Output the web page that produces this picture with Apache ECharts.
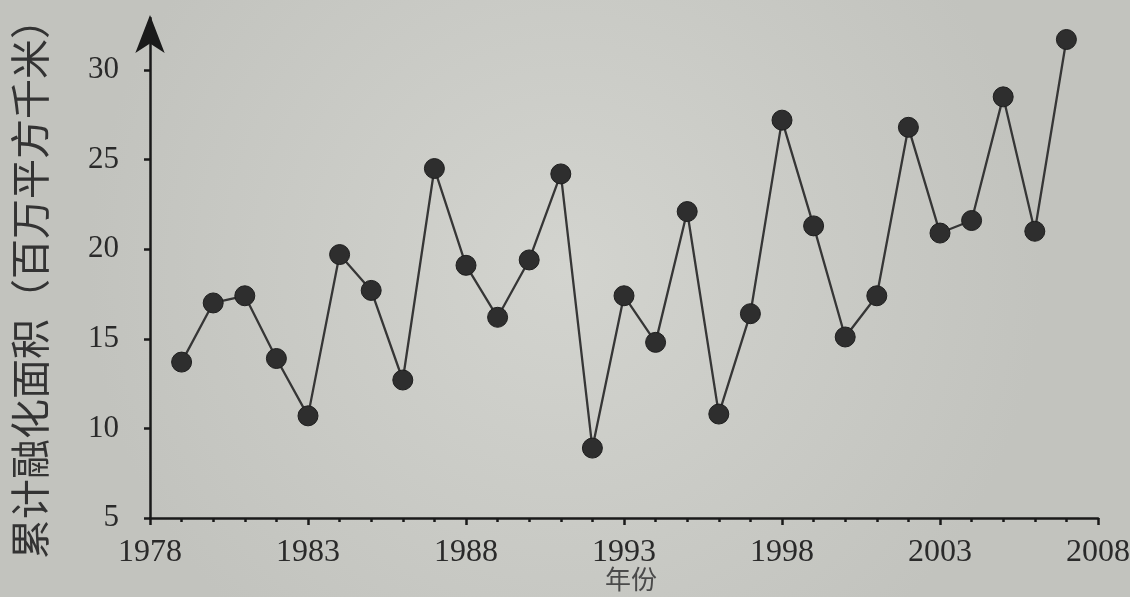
<!DOCTYPE html>
<html>
<head>
<meta charset="utf-8">
<script src="https://cdn.jsdelivr.net/npm/echarts@6/dist/echarts.min.js"></script>
<style>
html,body{margin:0;padding:0;background:#cfd0cb;}
#chart{width:1130px;height:597px;}
</style>
</head>
<body>
<div id="chart"></div>
<script>
const years = [1979,1980,1981,1982,1983,1984,1985,1986,1987,1988,1989,1990,1991,1992,1993,1994,1995,1996,1997,1998,1999,2000,2001,2002,2003,2004,2005,2006,2007];
const meltArea = [13.7,17.0,17.4,13.9,10.7,19.7,17.7,12.7,24.5,19.1,16.2,19.4,24.2,8.9,17.4,14.8,22.1,10.8,16.4,27.2,21.3,15.1,17.4,26.8,20.9,21.6,28.5,21.0,31.7];
const yTicks = [5,10,15,20,25,30];
const xTicks = [1978,1983,1988,1993,1998,2003,2008];
const yName = '累计融化面积（百万平方千米）';
const xName = '年份';

const chart = echarts.init(document.getElementById('chart'));
const serif = '"Liberation Serif","DejaVu Serif",serif';
chart.setOption({
  backgroundColor: {
    type: 'radial', x: 0.5, y: 0.45, r: 0.8,
    colorStops: [{offset: 0, color: '#d3d4cf'}, {offset: 1, color: '#c2c3be'}]
  },
  animation: false,
  grid: {left: 150, right: 32, top: 18, bottom: 79, containLabel: false, outerBoundsMode: 'none'},
  xAxis: {
    type: 'value', min: 1978, max: 2008, interval: 5,
    name: xName, nameLocation: 'middle', nameGap: 48, nameMoveOverlap: false,
    nameTextStyle: {fontFamily: '"Noto Sans CJK SC"', fontSize: 26, color: '#4a4a4a', align: 'center', verticalAlign: 'top', padding: [0,0,0,14]},
    axisLine: {lineStyle: {color: '#1a1a1a', width: 2.5}},
    axisTick: {show: true, length: 7, lineStyle: {color: '#1a1a1a', width: 2.5}},
    minorTick: {show: true, splitNumber: 5, length: 4, lineStyle: {color: '#1a1a1a', width: 2.5}},
    axisLabel: {
      customValues: xTicks,
      fontFamily: serif, fontSize: 32, color: '#2a2a2a', margin: 19,
      formatter: v => String(v)
    },
    splitLine: {show: false}
  },
  yAxis: {
    type: 'value', min: 5, max: 32.9,
    name: yName, nameLocation: 'middle', nameGap: 100, nameRotate: 90, nameMoveOverlap: false,
    nameTextStyle: {fontFamily: '"Noto Sans CJK SC"', fontSize: 40, color: '#333333', padding: [0,0,0,-22]},
    axisLine: {symbol: ['none','arrow'], symbolSize: [22,38], symbolOffset: [0, 3], lineStyle: {color: '#1a1a1a', width: 2.5}},
    axisTick: {show: true, length: 6, customValues: yTicks, lineStyle: {color: '#1a1a1a', width: 2.5}},
    axisLabel: {
      customValues: yTicks,
      fontFamily: serif, fontSize: 31, color: '#2a2a2a', margin: 31
    },
    splitLine: {show: false}
  },
  series: [{
    type: 'line',
    data: years.map((y, i) => [y, meltArea[i]]),
    symbol: 'circle', symbolSize: 20,
    itemStyle: {color: '#2e2e2e', borderColor: '#1e1e1e', borderWidth: 1},
    lineStyle: {color: '#363636', width: 2.3}
  }]
});
</script>
</body>
</html>
